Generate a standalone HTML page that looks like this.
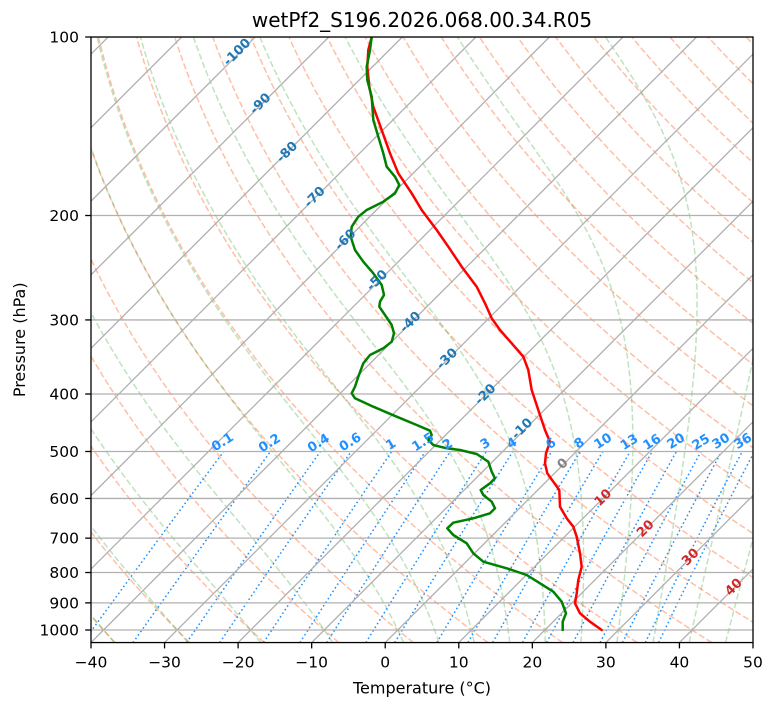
<!DOCTYPE html>
<html><head><meta charset="utf-8"><style>
html,body{margin:0;padding:0;background:#fff;}
svg{display:block;font-family:"DejaVu Sans","Liberation Sans",sans-serif;}
#dry path{fill:none;stroke:#ff7f50;stroke-opacity:0.5;stroke-width:1.5;stroke-dasharray:6.2,2.7;}
#moist path{fill:none;stroke:#2ca02c;stroke-opacity:0.3;stroke-width:1.5;stroke-dasharray:6.2,2.7;}
#mix path{fill:none;stroke:#1e90ff;stroke-width:1.5;stroke-dasharray:1.6,2.7;}
.grid line{stroke:#b0b0b0;stroke-width:1.3;}
.ml{fill:#1e90ff;font-weight:bold;font-size:13px;}
.tl{font-weight:bold;font-size:13px;}
.tick{font-size:15.5px;fill:#000;}
</style></head><body>
<svg width="775" height="708" viewBox="0 0 775 708" xmlns="http://www.w3.org/2000/svg">
<defs><clipPath id="c"><rect x="91" y="37" width="662" height="605.56"/></clipPath></defs>
<rect x="0" y="0" width="775" height="708" fill="#fff"/>
<g clip-path="url(#c)">
  <g id="dry"></g>
  <g id="moist"></g>
  <g id="mix"></g>
  <g class="grid">
    <line x1="-497.44" y1="642.56" x2="108.12" y2="37"/>
    <line x1="-423.89" y1="642.56" x2="181.67" y2="37"/>
    <line x1="-350.33" y1="642.56" x2="255.23" y2="37"/>
    <line x1="-276.78" y1="642.56" x2="328.78" y2="37"/>
    <line x1="-203.22" y1="642.56" x2="402.34" y2="37"/>
    <line x1="-129.67" y1="642.56" x2="475.89" y2="37"/>
    <line x1="-56.11" y1="642.56" x2="549.45" y2="37"/>
    <line x1="17.44" y1="642.56" x2="623.00" y2="37"/>
    <line x1="91" y1="642.56" x2="696.56" y2="37"/>
    <line x1="164.56" y1="642.56" x2="770.12" y2="37"/>
    <line x1="238.11" y1="642.56" x2="843.67" y2="37"/>
    <line x1="311.67" y1="642.56" x2="917.23" y2="37"/>
    <line x1="385.22" y1="642.56" x2="990.78" y2="37"/>
    <line x1="458.78" y1="642.56" x2="1064.34" y2="37"/>
    <line x1="532.33" y1="642.56" x2="1137.89" y2="37"/>
    <line x1="605.89" y1="642.56" x2="1211.45" y2="37"/>
    <line x1="679.44" y1="642.56" x2="1285.00" y2="37"/>
    <line x1="91" y1="37" x2="753" y2="37"/>
    <line x1="91" y1="215.51" x2="753" y2="215.51"/>
    <line x1="91" y1="319.93" x2="753" y2="319.93"/>
    <line x1="91" y1="394.02" x2="753" y2="394.02"/>
    <line x1="91" y1="451.49" x2="753" y2="451.49"/>
    <line x1="91" y1="498.44" x2="753" y2="498.44"/>
    <line x1="91" y1="538.14" x2="753" y2="538.14"/>
    <line x1="91" y1="572.53" x2="753" y2="572.53"/>
    <line x1="91" y1="602.87" x2="753" y2="602.87"/>
    <line x1="91" y1="630" x2="753" y2="630"/>
  </g>
  <polyline fill="none" stroke="#ff0000" stroke-width="2.5" stroke-linejoin="round" stroke-linecap="round" points="371.7,37 368.3,50 367.3,66.7 369.3,86.7 373.3,106.7 381.7,130 390,153.3 398.3,173.3 411.7,193.3 421.7,210 436.7,230 448.3,246.7 461.7,266.7 476.7,286.7 485,303.3 491.7,318.3 500,330 511.7,343.3 523.3,356.7 528.3,370 531.7,390 538.3,410 545,430 550,441.7 546,453.3 545,463.3 547.3,473.3 553.3,481.7 559.3,490 560,506.7 566.7,518.3 573.3,526.7 576.7,536.7 580,553.3 581.7,566.7 578.3,580 576.7,593.3 575,603.3 580,613.3 590,621.7 601.7,630"/>
  <polyline fill="none" stroke="#008000" stroke-width="2.5" stroke-linejoin="round" stroke-linecap="round" points="371.7,37 370,50 366.7,66.7 367.3,80 371.7,96.7 373.3,120 378.3,136.7 383.3,153.3 386.7,166.7 395,176.7 399.3,185 395,193.3 383.3,201.7 366.7,210 358.3,216.7 351.7,226.7 350.7,236.7 355,250 363.3,261.7 373.3,273.3 381.7,285 384,295 380,301.7 379.3,306.7 385,315 391.7,325 394,333.3 391.7,341.7 383.3,348.3 370,355 363.3,363.3 358.3,376.7 355,386.7 351.7,393.3 355,398.3 373.3,406.7 396.7,416.7 416.7,425 430,430.7 431.7,435 428.3,440 433.3,445 446.7,448.3 460,450 476.7,454 488.3,461.7 491.7,471.7 495,478.3 490,483.3 480.7,490 483.3,495 491.7,501.7 495,508.3 490,513.3 473.3,518.3 453.3,522.7 447.3,528.3 453.3,535 466.7,543.3 473.3,553.3 483.3,561.7 506.7,568.3 526.7,575 540,583.3 553.3,591.7 561.7,601.7 566,613.3 562.7,621.7 562.7,630"/>
</g>
<g class="ml" text-anchor="middle">
  <text transform="translate(222.3,441.7) rotate(-32)" dy="0.35em">0.1</text>
  <text transform="translate(269.3,442.7) rotate(-32)" dy="0.35em">0.2</text>
  <text transform="translate(318.3,442.7) rotate(-32)" dy="0.35em">0.4</text>
  <text transform="translate(350,441.7) rotate(-32)" dy="0.35em">0.6</text>
  <text transform="translate(390.7,444) rotate(-32)" dy="0.35em">1</text>
  <text transform="translate(422.7,441.7) rotate(-32)" dy="0.35em">1.5</text>
  <text transform="translate(447.3,444) rotate(-32)" dy="0.35em">2</text>
  <text transform="translate(485,443.3) rotate(-32)" dy="0.35em">3</text>
  <text transform="translate(511.7,442.7) rotate(-32)" dy="0.35em">4</text>
  <text transform="translate(550.7,443.3) rotate(-32)" dy="0.35em">6</text>
  <text transform="translate(579,442.7) rotate(-32)" dy="0.35em">8</text>
  <text transform="translate(602.7,440.7) rotate(-32)" dy="0.35em">10</text>
  <text transform="translate(629,441.7) rotate(-32)" dy="0.35em">13</text>
  <text transform="translate(651.7,441.7) rotate(-32)" dy="0.35em">16</text>
  <text transform="translate(675.7,440.7) rotate(-32)" dy="0.35em">20</text>
  <text transform="translate(700.7,441.7) rotate(-32)" dy="0.35em">25</text>
  <text transform="translate(720.7,440.7) rotate(-32)" dy="0.35em">30</text>
  <text transform="translate(742.7,440.7) rotate(-32)" dy="0.35em">36</text>
</g>
<g class="tl" text-anchor="middle">
  <text fill="#1f77b4" transform="translate(236.7,51.7) rotate(-45)" dy="0.35em">-100</text>
  <text fill="#1f77b4" transform="translate(260,103.3) rotate(-45)" dy="0.35em">-90</text>
  <text fill="#1f77b4" transform="translate(286.7,151.7) rotate(-45)" dy="0.35em">-80</text>
  <text fill="#1f77b4" transform="translate(314.3,196.7) rotate(-45)" dy="0.35em">-70</text>
  <text fill="#1f77b4" transform="translate(345,239.3) rotate(-45)" dy="0.35em">-60</text>
  <text fill="#1f77b4" transform="translate(376.7,280) rotate(-45)" dy="0.35em">-50</text>
  <text fill="#1f77b4" transform="translate(410,321.7) rotate(-45)" dy="0.35em">-40</text>
  <text fill="#1f77b4" transform="translate(446.7,358.3) rotate(-45)" dy="0.35em">-30</text>
  <text fill="#1f77b4" transform="translate(485,394) rotate(-45)" dy="0.35em">-20</text>
  <text fill="#1f77b4" transform="translate(521.7,428.3) rotate(-45)" dy="0.35em">-10</text>
  <text fill="#808080" transform="translate(562.3,463.3) rotate(-45)" dy="0.35em">0</text>
  <text fill="#d62728" transform="translate(602.7,497.3) rotate(-45)" dy="0.35em">10</text>
  <text fill="#d62728" transform="translate(645,528.3) rotate(-45)" dy="0.35em">20</text>
  <text fill="#d62728" transform="translate(690,556.7) rotate(-45)" dy="0.35em">30</text>
  <text fill="#d62728" transform="translate(733.3,586.7) rotate(-45)" dy="0.35em">40</text>
</g>
<rect x="91" y="37" width="662" height="605.56" fill="none" stroke="#000" stroke-width="1.3"/>
<g stroke="#000" stroke-width="1.3">
  <line x1="85.2" y1="37" x2="91" y2="37"/>
  <line x1="85.2" y1="215.51" x2="91" y2="215.51"/>
  <line x1="85.2" y1="319.93" x2="91" y2="319.93"/>
  <line x1="85.2" y1="394.02" x2="91" y2="394.02"/>
  <line x1="85.2" y1="451.49" x2="91" y2="451.49"/>
  <line x1="85.2" y1="498.44" x2="91" y2="498.44"/>
  <line x1="85.2" y1="538.14" x2="91" y2="538.14"/>
  <line x1="85.2" y1="572.53" x2="91" y2="572.53"/>
  <line x1="85.2" y1="602.87" x2="91" y2="602.87"/>
  <line x1="85.2" y1="630" x2="91" y2="630"/>
  <line x1="91" y1="642.56" x2="91" y2="648.4"/>
  <line x1="164.56" y1="642.56" x2="164.56" y2="648.4"/>
  <line x1="238.11" y1="642.56" x2="238.11" y2="648.4"/>
  <line x1="311.67" y1="642.56" x2="311.67" y2="648.4"/>
  <line x1="385.22" y1="642.56" x2="385.22" y2="648.4"/>
  <line x1="458.78" y1="642.56" x2="458.78" y2="648.4"/>
  <line x1="532.33" y1="642.56" x2="532.33" y2="648.4"/>
  <line x1="605.89" y1="642.56" x2="605.89" y2="648.4"/>
  <line x1="679.44" y1="642.56" x2="679.44" y2="648.4"/>
  <line x1="753" y1="642.56" x2="753" y2="648.4"/>
</g>
<g class="tick" text-anchor="end">
  <text x="79" y="42.5">100</text>
  <text x="79" y="221">200</text>
  <text x="79" y="325.4">300</text>
  <text x="79" y="399.5">400</text>
  <text x="79" y="457">500</text>
  <text x="79" y="503.9">600</text>
  <text x="79" y="543.6">700</text>
  <text x="79" y="578">800</text>
  <text x="79" y="608.4">900</text>
  <text x="79" y="635.5">1000</text>
</g>
<g class="tick" text-anchor="middle">
  <text x="91" y="667.5">−40</text>
  <text x="164.56" y="667.5">−30</text>
  <text x="238.11" y="667.5">−20</text>
  <text x="311.67" y="667.5">−10</text>
  <text x="385.22" y="667.5">0</text>
  <text x="458.78" y="667.5">10</text>
  <text x="532.33" y="667.5">20</text>
  <text x="605.89" y="667.5">30</text>
  <text x="679.44" y="667.5">40</text>
  <text x="753" y="667.5">50</text>
</g>
<text x="422" y="693.5" text-anchor="middle" font-size="16">Temperature (°C)</text>
<text transform="translate(25,339.8) rotate(-90)" text-anchor="middle" font-size="16">Pressure (hPa)</text>
<text x="422" y="27" text-anchor="middle" font-size="20">wetPf2_S196.2026.068.00.34.R05</text>
</svg>
<script>
(function(){
var NS="http://www.w3.org/2000/svg";
var X0=91,Y0=37,YB=642.56,SX=662/90,SY=593;
function yp(p){return Y0+SY*Math.log(p/100)/Math.LN10;}
function xp(T,p){return X0+(T+40)*SX+(YB-yp(p));}
function pathFrom(pts){var s='';for(var i=0;i<pts.length;i++){s+=(i?'L':'M')+pts[i][0].toFixed(2)+','+pts[i][1].toFixed(2);}return s;}
function add(g,d){var e=document.createElementNS(NS,'path');e.setAttribute('d',d);g.appendChild(e);}
var gd=document.getElementById('dry'),gm=document.getElementById('moist'),gw=document.getElementById('mix');
var P=[];for(var i=0;i<=200;i++)P.push(1050-i*950/200);
for(var th=-40;th<=250;th+=10){var pts=[];for(var j=0;j<P.length;j++){var p=P[j];var T=(th+273.15)*Math.pow(p/1000,0.285716)-273.15;pts.push([xp(T,p),yp(p)]);}add(gd,pathFrom(pts));}
var Rd=287.04749,Lv=2.50084e6,Cp=1004.6662,eps=0.62196;
function es(Tc){return 6.112*Math.exp(17.67*Tc/(Tc+243.5));}
function f(p,T){var e=es(T-273.15);var r=eps*e/Math.max(p-e,1e-6);return ((Rd*T+Lv*r)/(Cp+Lv*Lv*r*eps/(Rd*T*T)))/p;}
function integ(T0,p0,p1,n){var h=(p1-p0)/n,T=T0,p=p0,out=[[p,T]];for(var k=0;k<n;k++){var k1=f(p,T),k2=f(p+h/2,T+h/2*k1),k3=f(p+h/2,T+h/2*k2),k4=f(p+h,T+h*k3);T+=h/6*(k1+2*k2+2*k3+k4);p+=h;out.push([p,T]);}return out;}
var m0=[-40,-30,-20,-10,0,5,10,15,20,25,30,35,40,45,50];
for(var a=0;a<m0.length;a++){var t=m0[a]+273.15;var up=integ(t,1000,100,450);var dn=integ(t,1000,1050,25).reverse();var all=dn.concat(up.slice(1));var pts=[];for(var b=0;b<all.length;b++){pts.push([xp(all[b][1]-273.15,all[b][0]),yp(all[b][0])]);}add(gm,pathFrom(pts));}
var W=[0.1,0.2,0.4,0.6,1,1.5,2,3,4,6,8,10,13,16,20,25,30,36,40];
for(var c=0;c<W.length;c++){var w=W[c]/1000;var pts=[];for(var p=1050;p>=500;p-=10){var e=p*w/(eps+w);var v=Math.log(e/6.112);var Td=243.5*v/(17.67-v);pts.push([xp(Td,p),yp(p)]);}add(gw,pathFrom(pts));}
})();
</script>
</body></html>
